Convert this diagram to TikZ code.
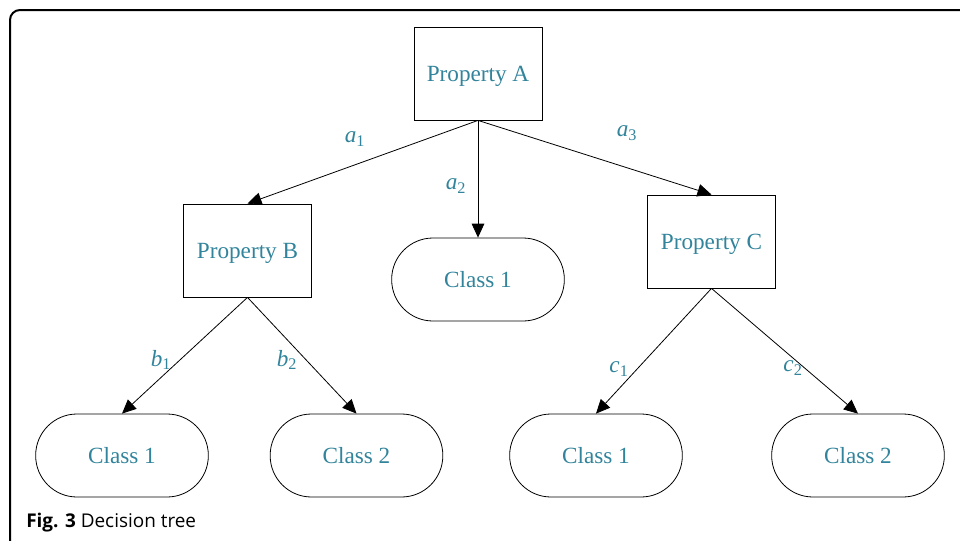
\documentclass[tikz,border=0pt]{standalone}
\usepackage{fontspec}
\setmainfont{Liberation Serif}
\newfontfamily\capfont{Open Sans}
\usetikzlibrary{arrows.meta}
\definecolor{labteal}{HTML}{31849B}

\begin{document}
\begin{tikzpicture}[x=0.75pt,y=-0.75pt,
    prop/.style={draw,line width=0.6pt,minimum width=96pt,minimum height=69.75pt,
      text depth=0pt,text=labteal,font=\fontsize{17.4}{20}\selectfont},
    leaf/.style={draw,rounded corners=31pt,line width=0.6pt,minimum width=129.5pt,
      minimum height=62.25pt,text depth=0pt,text=labteal,font=\fontsize{17.4}{20}\selectfont},
    branch/.style={text=labteal,font=\fontsize{17.4}{20}\selectfont},
    link/.style={-{Triangle[length=10.5pt,width=9.5pt]},line width=0.6pt}]
  \useasboundingbox (0,0) rectangle (960,540);
  % frame
  \draw[line width=1.5pt,rounded corners=7.5pt] (10,545) -- (10,10) -- (965,10);
  % tree nodes
  \node[prop] (pa) at (478,73.5) {Property A};
  \node[prop] (pb) at (247.5,250.5) {Property B};
  \node[prop] (pc) at (711.5,241.5) {Property C};
  \node[leaf] (ma) at (478,279.5) {Class 1};
  \node[leaf] (ba) at (122,455.5) {Class 1};
  \node[leaf] (bb) at (356.5,455.5) {Class 2};
  \node[leaf] (ca) at (596,455.5) {Class 1};
  \node[leaf] (cb) at (858,455.5) {Class 2};
  % arrows
  \draw[link] (pa.south) -- (pb.north);
  \draw[link] (pa.south) -- (ma.north);
  \draw[link] (pa.south) -- (pc.north);
  \draw[link] (pb.south) -- (ba.north);
  \draw[link] (pb.south) -- (bb.north);
  \draw[link] (pc.south) -- (ca.north);
  \draw[link] (pc.south) -- (cb.north);
  % branch labels
  \node[branch] (la1) at (355,139) {\textit{a}\textsubscript{1}};
  \node[branch] (la2) at (456,186) {\textit{a}\textsubscript{2}};
  \node[branch] (la3) at (627,133) {\textit{a}\textsubscript{3}};
  \node[branch] (lb1) at (161,360) {\textit{b}\textsubscript{1}};
  \node[branch] (lb2) at (287,360) {\textit{b}\textsubscript{2}};
  \node[branch] (lc1) at (619,369) {\textit{c}\textsubscript{1}};
  \node[branch] (lc2) at (793,368) {\textit{c}\textsubscript{2}};
  % caption
  \node[anchor=west,inner sep=0pt] (cap) at (26,523)
    {\capfont\fontsize{14.2}{16}\selectfont\textbf{Fig. 3} Decision tree};
\end{tikzpicture}
\end{document}
